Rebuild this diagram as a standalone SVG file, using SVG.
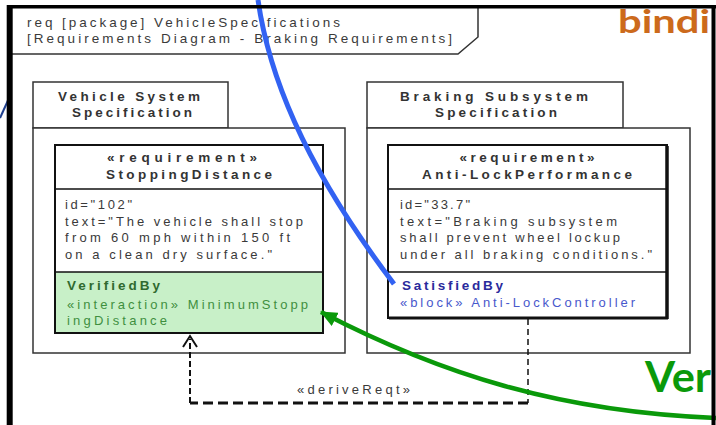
<svg xmlns="http://www.w3.org/2000/svg" width="716" height="425" viewBox="0 0 716 425">
  <defs>
    <style>
      .t { font-family: "Liberation Sans", Arial, sans-serif; font-size: 13px; fill: #3a3a3a; }
      .b { font-weight: bold; font-size: 13.5px; fill: #333; }
      .hdr { font-size: 13.5px; fill: #3a3a3a; }
      .pkg { fill: #fff; stroke: #333; stroke-width: 1.5; }
      .sep { stroke: #111; stroke-width: 1.5; }
      .ver-h { fill: #2f6a2f; font-weight: bold; font-size: 13.5px; }
      .ver-t { fill: #3f8f3f; }
      .sat-h { fill: #2a2a9c; font-weight: bold; font-size: 13.5px; }
      .sat-t { fill: #4858cc; }
      .dash { fill: none; stroke: #111; }
      .frame { stroke: #000; fill: none; }
      .callout { font-family: Lato, "Noto Sans", sans-serif; font-weight: bold; }
    </style>
    <marker id="arrowGreen" viewBox="0 0 17 15" refX="16" refY="7.5" markerWidth="17" markerHeight="15" markerUnits="userSpaceOnUse" orient="auto">
      <path d="M0,0 L17,7.5 L0,15 Z" fill="#0a990a"/>
    </marker>
  </defs>

  <rect width="716" height="425" fill="#fff"/>

  <!-- diagram frame header -->
  <g id="header">
    <path d="M10,54 H458 L478,37 V6" fill="none" stroke="#333" stroke-width="1.5"/>
    <text class="t hdr" x="27" y="27" textLength="313">req [package] VehicleSpecifications</text>
    <text class="t hdr" x="27" y="43" textLength="425">[Requirements Diagram - Braking Requirements]</text>
  </g>

  <!-- package: Vehicle System Specification -->
  <g id="pkg-vehicle">
    <rect class="pkg" x="33" y="82" width="195" height="46"/>
    <rect class="pkg" x="33" y="128" width="312" height="225"/>
    <text class="t b" x="129" y="101" text-anchor="middle" textLength="142">Vehicle System</text>
    <text class="t b" x="132" y="117" text-anchor="middle" textLength="120">Specification</text>
  </g>

  <!-- package: Braking Subsystem Specification -->
  <g id="pkg-braking">
    <rect class="pkg" x="367" y="82" width="256" height="46"/>
    <rect class="pkg" x="367" y="128" width="323" height="225"/>
    <text class="t b" x="494" y="101" text-anchor="middle" textLength="188">Braking  Subsystem</text>
    <text class="t b" x="496" y="117" text-anchor="middle" textLength="122">Specification</text>
  </g>

  <!-- requirement: StoppingDistance -->
  <g id="req-stopping">
    <rect x="55" y="145" width="268" height="127" fill="#fff"/>
    <rect x="55" y="272" width="268" height="61" fill="#c8f0c8"/>
    <rect x="55" y="145" width="268" height="188" fill="none" stroke="#111" stroke-width="2"/>
    <line class="sep" x1="55" y1="189" x2="323" y2="189"/>
    <line class="sep" x1="55" y1="272" x2="323" y2="272"/>
    <text class="t b" x="182" y="162" text-anchor="middle" textLength="150">«requirement»</text>
    <text class="t b" x="189" y="179" text-anchor="middle" textLength="166">StoppingDistance</text>
    <text class="t" x="65" y="209" textLength="67">id="102"</text>
    <text class="t" x="65" y="226" textLength="238">text="The vehicle shall stop</text>
    <text class="t" x="65" y="242" textLength="225">from 60 mph within 150 ft</text>
    <text class="t" x="65" y="259" textLength="207">on a clean dry surface."</text>
    <text class="t ver-h" x="67" y="290" textLength="93">VerifiedBy</text>
    <text class="t ver-t" x="67" y="309" textLength="241">«interaction» MinimumStopp</text>
    <text class="t ver-t" x="67" y="325" textLength="100">ingDistance</text>
  </g>

  <!-- requirement: Anti-LockPerformance -->
  <g id="req-antilock">
    <rect x="388" y="145" width="279" height="173" fill="#fff" stroke="#111" stroke-width="2"/>
    <line x1="667" y1="146" x2="667" y2="319" stroke="#111" stroke-width="3.5"/>
    <line x1="389" y1="318" x2="668" y2="318" stroke="#111" stroke-width="3"/>
    <line class="sep" x1="388" y1="189" x2="667" y2="189"/>
    <line class="sep" x1="388" y1="272" x2="667" y2="272"/>
    <text class="t b" x="527" y="162" text-anchor="middle" textLength="135">«requirement»</text>
    <text class="t b" x="527" y="179" text-anchor="middle" textLength="210">Anti-LockPerformance</text>
    <text class="t" x="400" y="209" textLength="70">id="33.7"</text>
    <text class="t" x="400" y="226" textLength="217">text="Braking subsystem</text>
    <text class="t" x="400" y="242" textLength="220">shall prevent wheel lockup</text>
    <text class="t" x="400" y="259" textLength="252">under all braking conditions."</text>
    <text class="t sat-h" x="402" y="290" textLength="101">SatisfiedBy</text>
    <text class="t sat-t" x="400" y="307" textLength="235">«block» Anti-LockController</text>
  </g>

  <!-- relationships -->
  <g id="connectors">
    <!-- deriveReqt dependency -->
    <path class="dash" d="M528,319 V403" stroke-width="1.5" stroke-dasharray="6,4"/>
    <path class="dash" d="M528,403 H190" stroke-width="3" stroke-dasharray="10,5"/>
    <path class="dash" d="M190,403 V339" stroke-width="2" stroke-dasharray="6,3"/>
    <path class="dash" d="M183,347 L190,336 L197,347" stroke-width="2"/>
    <text class="t" x="297" y="394" textLength="113">«deriveReqt»</text>

    <!-- satisfy link -->
    <path d="M258,0 C268,70 300,160 394,284" fill="none" stroke="#3262f2" stroke-width="5"/>
    <line x1="0" y1="118" x2="10" y2="96" stroke="#1e3f8f" stroke-width="2"/>

    <!-- verify link -->
    <path d="M716,418 C560,412 440,374 321,312" fill="none" stroke="#0a990a" stroke-width="4.5" marker-end="url(#arrowGreen)"/>
  </g>

  <!-- callout words -->
  <g id="callouts">
    <text class="callout" x="618" y="33" font-size="32" fill="#cc6a1c" textLength="92" lengthAdjust="spacingAndGlyphs">bindi</text>
    <text class="callout" x="645" y="392" font-size="42" fill="#0a990a" textLength="66" lengthAdjust="spacingAndGlyphs">Ver</text>
  </g>

  <!-- outer frame -->
  <g id="frame">
    <line class="frame" x1="7" y1="6.7" x2="716" y2="6.7" stroke-width="3.5"/>
    <line class="frame" x1="9.7" y1="5" x2="9.7" y2="425" stroke-width="6"/>
    <line class="frame" x1="713.5" y1="5" x2="713.5" y2="425" stroke-width="4"/>
  </g>
</svg>
